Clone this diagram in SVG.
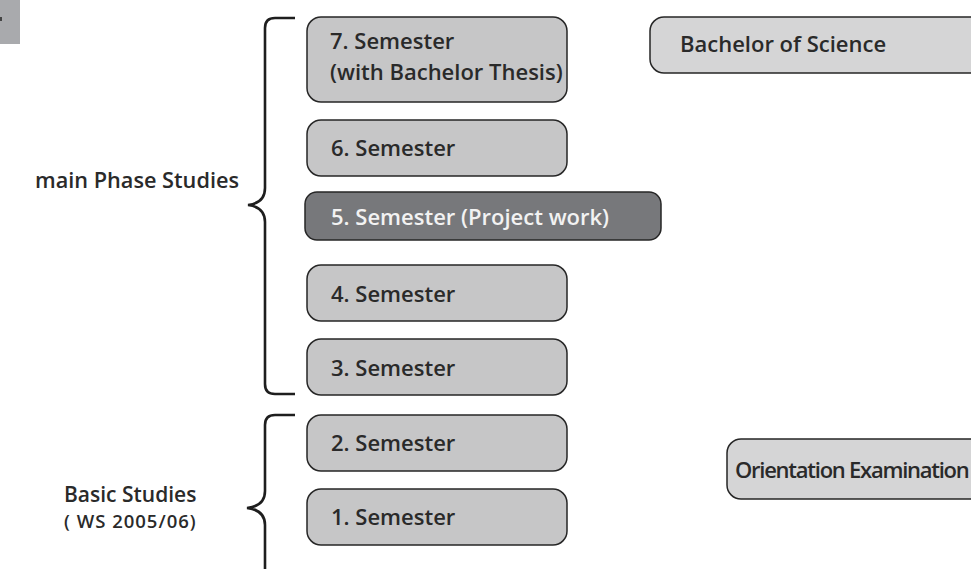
<svg xmlns="http://www.w3.org/2000/svg" width="971" height="569" viewBox="0 0 971 569">
<style>
.box{fill:#c6c6c7;stroke:#262626;stroke-width:1.5}
.light{fill:#d5d5d6}
.dark{fill:#77787b}
.t{font-family:"Open Sans","Liberation Sans",sans-serif;font-weight:600;font-size:22px;fill:#2a2a2a}
.w{fill:#f2f2f2}
.brace{fill:none;stroke:#1e1e1e;stroke-width:2.6;stroke-linecap:butt}
</style>
<rect x="0" y="0" width="20" height="44" fill="#a9aaad"/>
<rect x="0" y="17" width="2" height="4" fill="#444"/>
<g id="connectors">
<path class="brace" d="M295,18 L275,18 Q265,18 265,28 L265,188 Q265,203 248,205 Q265,207 265,222 L265,384 Q265,394 275,394 L295,394"/>
<path class="brace" d="M295,415 L275,415 Q265,415 265,425 L265,491 Q265,506 247,508 Q265,510 265,525 L265,575"/>
</g>
<g id="label-main"><text class="t" x="35" y="188" style="font-size:21.7px">main Phase Studies</text></g>
<g id="label-basic"><text class="t" x="64" y="502" style="font-size:21px">Basic Studies</text><text class="t" x="64" y="528" style="font-size:18.5px;letter-spacing:1px">( WS 2005/06)</text></g>
<g id="sem7"><rect class="box" x="307" y="17" width="260" height="85" rx="14"/><text class="t" x="330" y="49">7. Semester</text><text class="t" x="330" y="80">(with Bachelor Thesis)</text></g>
<g id="sem6"><rect class="box" x="307" y="120" width="260" height="56" rx="14"/><text class="t" x="331" y="156">6. Semester</text></g>
<g id="sem5"><rect class="box dark" x="305" y="192" width="356" height="48" rx="12"/><text class="t w" x="331" y="225">5. Semester (Project work)</text></g>
<g id="sem4"><rect class="box" x="307" y="265" width="260" height="56" rx="14"/><text class="t" x="331" y="302">4. Semester</text></g>
<g id="sem3"><rect class="box" x="307" y="339" width="260" height="56" rx="14"/><text class="t" x="331" y="376">3. Semester</text></g>
<g id="sem2"><rect class="box" x="307" y="415" width="260" height="56" rx="14"/><text class="t" x="331" y="451">2. Semester</text></g>
<g id="sem1"><rect class="box" x="307" y="489" width="260" height="56" rx="14"/><text class="t" x="331" y="525">1. Semester</text></g>
<g id="bachelor"><rect class="box light" x="650" y="17" width="340" height="56" rx="14"/><text class="t" x="680" y="52">Bachelor of Science</text></g>
<g id="orientation"><rect class="box light" x="727" y="439" width="260" height="60" rx="14"/><text class="t" x="735" y="478" style="letter-spacing:-1.25px">Orientation Examination</text></g>
</svg>
